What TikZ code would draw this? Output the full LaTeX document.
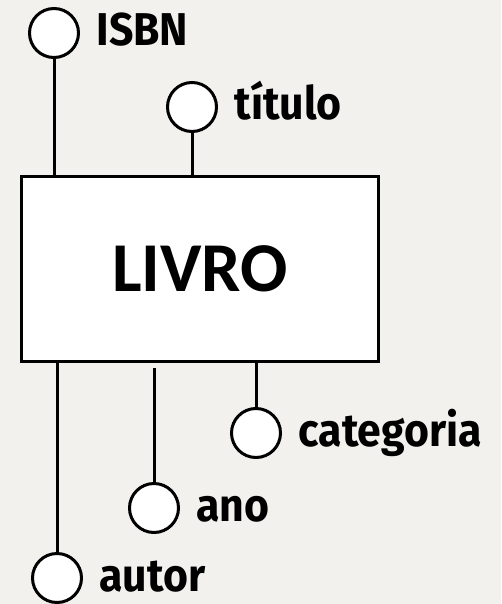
\documentclass[tikz,border=0pt]{standalone}
\usepackage{fontspec}
\setmainfont{Carlito}
\newfontfamily\attrfont[FakeStretch=0.93]{Fira Sans}
\usetikzlibrary{positioning}
\definecolor{paper}{HTML}{F3F1EE}

\begin{document}
\begin{tikzpicture}[x=1pt, y=-1pt, line width=3pt,
    attr/.style={circle, draw, fill=white, minimum size=49pt, inner sep=0pt},
    attrlab/.style={font=\attrfont\bfseries\fontsize{46}{46}\selectfont, inner sep=0pt}]
  \fill[paper] (0,0) rectangle (501,604);
  \node[draw, fill=white, minimum width=357pt, minimum height=185pt, inner sep=0pt,
        font=\bfseries\fontsize{70}{70}\selectfont] (livro) at (200,269) {LIVRO};
  % atributos
  \foreach \x/\y/\nm/\lab in {54/33/isbn/ISBN, 192/107/titulo/título,
                              256/433/categoria/categoria, 154/508/ano/ano, 57/578/autor/autor}
    { \node[attr] (\nm) at (\x,\y) {};
      \node[attrlab, right=15pt of \nm, anchor=base west, yshift=-13pt] (\nm-lab) {\lab}; }
  \draw (isbn) -- (isbn |- livro.north);
  \draw (titulo) -- (titulo |- livro.north);
  \draw (categoria) -- (categoria |- livro.south);
  \draw[shorten >=5pt] (ano) -- (ano |- livro.south);
  \draw (autor) -- (autor |- livro.south);
\end{tikzpicture}
\end{document}
